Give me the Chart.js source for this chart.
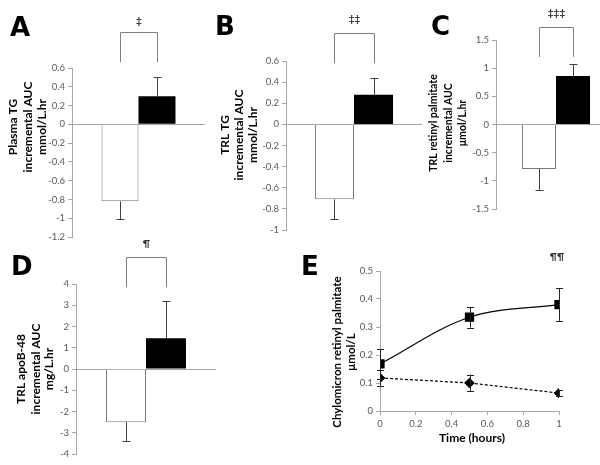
<!DOCTYPE html>
<html>
<head>
<meta charset="utf-8">
<script src="https://cdn.jsdelivr.net/npm/chart.js@4.4.0/dist/chart.umd.min.js"></script>
<style>
html,body{margin:0;padding:0;background:#fff;width:600px;height:465px;overflow:hidden;position:relative}
canvas{position:absolute}
</style>
</head>
<body>
<canvas id="cA"></canvas>
<canvas id="cB"></canvas>
<canvas id="cC"></canvas>
<canvas id="cD"></canvas>
<canvas id="cE"></canvas>
<script>
// white bar = first group, black bar = second group
const groups = ['Control', 'Treatment'];

const plasmaTgMean = [-0.82, 0.30];
const plasmaTgErr = [0.19, 0.20];
const trlTgMean = [-0.71, 0.28];
const trlTgErr = [0.19, 0.16];
const trlRpMean = [-0.79, 0.86];
const trlRpErr = [0.37, 0.21];
const apoB48Mean = [-2.5, 1.45];
const apoB48Err = [0.9, 1.75];

// y axis ranges: [min, max, step]
const yRangeA = [-1.2, 0.6, 0.2];
const yRangeB = [-1, 0.6, 0.2];
const yRangeC = [-1.5, 1.5, 0.5];
const yRangeD = [-4, 4, 1];

const timeHours = [0, 0.5, 1];
const squareMean = [0.168, 0.335, 0.38];
const squareErr = [0.053, 0.037, 0.058];
const diamondMean = [0.118, 0.10, 0.064];
const diamondErr = [0.028, 0.03, 0.012];
const yRangeE = [0, 0.5, 0.1];
const xRangeE = [0, 1, 0.2];

const axisC = '#a6a6a6';
const tickC = '#595959';
const tickFont = {family: 'Lato', size: 9.5};
const fmt = v => String(+(+v).toFixed(2));

// canvas boxes in page pixels and panel decorations
const decor = {
  cA: {box: [0, 0, 215, 250], area: [72, 205, 68, 237], cp: 0.556,
       means: plasmaTgMean, errs: plasmaTgErr, range: yRangeA,
       letter: ['A', 10, 36], sig: ['‡', 21], br: [32, 62],
       title: [['Plasma TG', 'incremental AUC', 'mmol/L.hr'], [13, 28, 42], 127, 12]},
  cB: {box: [200, 0, 230, 250], area: [286, 422, 61, 230], cp: 0.574,
       means: trlTgMean, errs: trlTgErr, range: yRangeB,
       letter: ['B', 215, 35], sig: ['‡‡', 19], br: [33, 63],
       title: [['TRL TG', 'incremental AUC', 'mmol/L.hr'], [225, 239, 253], 135, 12]},
  cC: {box: [410, 0, 210, 250], area: [496, 616, 40, 209], cp: 0.567,
       means: trlRpMean, errs: trlRpErr, range: yRangeC,
       letter: ['C', 431, 35], sig: ['‡‡‡', 13], br: [27, 57],
       title: [['TRL retinyl palmitate', 'incremental AUC', 'μmol/L.hr'], [434, 449, 463], 123, 10.5]},
  cD: {box: [0, 235, 225, 230], area: [76, 216, 284, 454], cp: 0.571,
       means: apoB48Mean, errs: apoB48Err, range: yRangeD,
       letter: ['D', 11, 275], sig: ['¶', 244], br: [257, 287],
       title: [['TRL apoB-48', 'incremental AUC', 'mg/L.hr'], [21, 36, 49], 369, 12]},
  cE: {box: [295, 245, 300, 220], area: [380, 559, 271, 411],
       letter: ['E', 301, 275], sig: ['¶¶', 257, 557],
       title: [['Chylomicron retinyl palmitate', 'μmol/L'], [337, 351], 352, 11.5],
       xtitle: ['Time (hours)', 472, 438]}
};

function vTitle(ctx, d) {
  const [lines, xs, cy, size] = d.title;
  ctx.save();
  ctx.font = 'bold ' + size + 'px Lato';
  ctx.fillStyle = '#000';
  ctx.textAlign = 'center';
  ctx.textBaseline = 'middle';
  lines.forEach((t, i) => {
    ctx.save();
    ctx.translate(xs[i] - d.box[0], cy - d.box[1]);
    ctx.rotate(-Math.PI / 2);
    ctx.fillText(t, 0, 0);
    ctx.restore();
  });
  ctx.restore();
}

function errBar(ctx, x, y0, y1, cap) {
  x = Math.round(x) + 0.5;
  ctx.beginPath();
  ctx.moveTo(x, y0); ctx.lineTo(x, y1);
  ctx.moveTo(x - cap, Math.round(y1) + 0.5); ctx.lineTo(x + cap, Math.round(y1) + 0.5);
  ctx.stroke();
}

const decorPlugin = {
  id: 'decor',
  afterDatasetsDraw(chart) {
    const d = decor[chart.canvas.id];
    const ctx = chart.ctx;
    const ox = d.box[0], oy = d.box[1];
    ctx.save();
    ctx.strokeStyle = '#404040';
    ctx.lineWidth = 1;
    if (d.means) {
      const ys = chart.scales.y;
      const xs = [];
      d.means.forEach((m, i) => {
        const bar = chart.getDatasetMeta(i).data[0];
        xs.push(bar.x);
        const dir = m < 0 ? -1 : 1;
        errBar(ctx, bar.x, ys.getPixelForValue(m), ys.getPixelForValue(m + dir * d.errs[i]), 4);
      });
      // significance bracket
      ctx.strokeStyle = '#7f7f7f';
      const l = Math.round(xs[0]) + 0.5, r = Math.round(xs[1]) + 0.5;
      const t = d.br[0] - oy + 0.5, b = d.br[1] - oy;
      ctx.beginPath();
      ctx.moveTo(l, b); ctx.lineTo(l, t); ctx.lineTo(r, t); ctx.lineTo(r, b);
      ctx.stroke();
      ctx.fillStyle = '#333';
      ctx.font = 'bold 10px Lato';
      ctx.textAlign = 'center';
      ctx.textBaseline = 'middle';
      ctx.fillText(d.sig[0], (l + r) / 2, d.sig[1] - oy);
    } else {
      const xs = chart.scales.x, ys = chart.scales.y;
      ctx.strokeStyle = '#222';
      [[squareMean, squareErr], [diamondMean, diamondErr]].forEach(([mean, err]) => {
        timeHours.forEach((t, i) => {
          const x = xs.getPixelForValue(t);
          errBar(ctx, x, ys.getPixelForValue(mean[i]), ys.getPixelForValue(mean[i] + err[i]), 3.5);
          errBar(ctx, x, ys.getPixelForValue(mean[i]), ys.getPixelForValue(mean[i] - err[i]), 3.5);
        });
      });
      ctx.fillStyle = '#333';
      ctx.font = 'bold 10px Lato';
      ctx.textAlign = 'center';
      ctx.textBaseline = 'middle';
      ctx.fillText(d.sig[0], d.sig[2] - ox, d.sig[1] - oy);
      ctx.fillStyle = '#000';
      ctx.font = 'bold 12px Lato';
      ctx.fillText(d.xtitle[0], d.xtitle[1] - ox, d.xtitle[2] - oy);
    }
    // panel letter
    ctx.fillStyle = '#000';
    ctx.font = 'bold 26px "DejaVu Sans"';
    ctx.textAlign = 'left';
    ctx.textBaseline = 'alphabetic';
    ctx.fillText(d.letter[0], d.letter[1] - ox, d.letter[2] - oy);
    vTitle(ctx, d);
    ctx.restore();
  }
};

function place(id) {
  const d = decor[id];
  const cv = document.getElementById(id);
  cv.width = d.box[2];
  cv.height = d.box[3];
  cv.style.left = d.box[0] + 'px';
  cv.style.top = d.box[1] + 'px';
  return cv;
}

function barPanel(id) {
  const d = decor[id];
  const cv = place(id);
  const [L, R, T, B] = d.area;
  const yw = L - d.box[0];
  new Chart(cv, {
    type: 'bar',
    data: {
      labels: [''],
      datasets: [
        {label: groups[0], data: [d.means[0]], backgroundColor: '#fff', borderColor: '#7a7a7a',
         borderWidth: 1, barPercentage: 1, categoryPercentage: d.cp},
        {label: groups[1], data: [d.means[1]], backgroundColor: '#000', borderColor: '#000',
         borderWidth: 0, barPercentage: 1, categoryPercentage: d.cp}
      ]
    },
    options: {
      responsive: false,
      animation: false,
      events: [],
      layout: {padding: {left: 0, top: T - d.box[1], right: d.box[0] + d.box[2] - R, bottom: d.box[1] + d.box[3] - B}},
      plugins: {legend: {display: false}, tooltip: {enabled: false}},
      scales: {
        x: {display: false},
        y: {
          min: d.range[0], max: d.range[1],
          ticks: {stepSize: d.range[2], font: tickFont, color: tickC, padding: 3, callback: fmt},
          grid: {
            color: c => (c.tick && Math.abs(c.tick.value) < 1e-9) ? axisC : 'rgba(0,0,0,0)',
            tickColor: axisC, tickLength: 4
          },
          border: {color: axisC},
          afterFit: s => { s.width = yw; }
        }
      }
    },
    plugins: [decorPlugin]
  });
}

barPanel('cA');
barPanel('cB');
barPanel('cC');
barPanel('cD');

// panel E: time course
(function () {
  const d = decor.cE;
  const cv = place('cE');
  const [L, R, T, B] = d.area;
  new Chart(cv, {
    type: 'line',
    data: {
      datasets: [
        {data: timeHours.map((t, i) => ({x: t, y: squareMean[i]})),
         borderColor: '#000', borderWidth: 1.2, tension: 0.35,
         pointStyle: 'rect', pointRadius: 5.7, pointBackgroundColor: '#000', pointBorderColor: '#000'},
        {data: timeHours.map((t, i) => ({x: t, y: diamondMean[i]})),
         borderColor: '#000', borderWidth: 1.2, borderDash: [3, 2], tension: 0,
         pointStyle: 'rectRot', pointRadius: 4.5, pointBackgroundColor: '#000', pointBorderColor: '#000'}
      ]
    },
    options: {
      responsive: false,
      animation: false,
      events: [],
      layout: {padding: {left: 0, top: T - d.box[1], right: d.box[0] + d.box[2] - R, bottom: 0}},
      plugins: {legend: {display: false}, tooltip: {enabled: false}},
      scales: {
        x: {
          type: 'linear', min: xRangeE[0], max: xRangeE[1],
          ticks: {stepSize: xRangeE[2], font: tickFont, color: tickC, padding: 3, callback: fmt},
          grid: {drawOnChartArea: false, tickColor: axisC, tickLength: 4},
          border: {color: axisC},
          afterFit: s => { s.height = d.box[1] + d.box[3] - B; }
        },
        y: {
          min: yRangeE[0], max: yRangeE[1],
          ticks: {stepSize: yRangeE[2], font: tickFont, color: tickC, padding: 3, callback: fmt},
          grid: {drawOnChartArea: false, tickColor: axisC, tickLength: 4},
          border: {color: axisC},
          afterFit: s => { s.width = L - d.box[0]; }
        }
      }
    },
    plugins: [decorPlugin]
  });
})();
</script>
</body>
</html>
